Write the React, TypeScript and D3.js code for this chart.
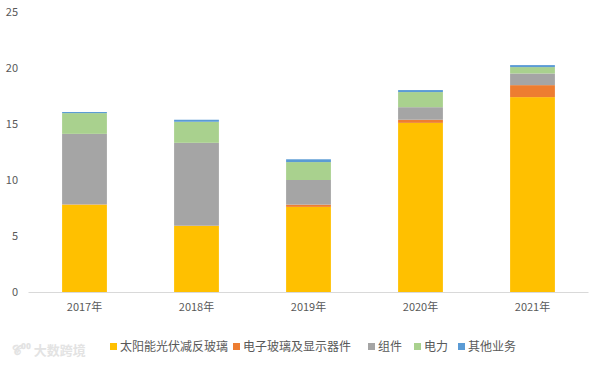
import React from "react";
import * as d3 from "d3";

const categories = ["2017年", "2018年", "2019年", "2020年", "2021年"];
const seriesNames = ["太阳能光伏减反玻璃", "电子玻璃及显示器件", "组件", "电力", "其他业务"];
const solarGlass = [7.8, 5.9, 7.6, 15.1, 17.4];
const electronicGlass = [0.02, 0.02, 0.2, 0.28, 1.07];
const modules = [6.3, 7.4, 2.2, 1.12, 1.04];
const power = [1.85, 1.88, 1.6, 1.35, 0.57];
const other = [0.1, 0.18, 0.25, 0.18, 0.18];
const yTicks = [0, 5, 10, 15, 20, 25];
const colors = ["#FFC000", "#ED7D31", "#A5A5A5", "#A9D18E", "#5B9BD5"];

export default function App() {
  const W = 609, H = 365;
  const left = 28.5, right = 588.5, top = 12, bottom = 292;
  const x = d3.scaleBand().domain(categories).range([left, right]).paddingInner(0.6).paddingOuter(0.3);
  const y = d3.scaleLinear().domain([0, 25]).range([bottom, top]);
  const rows = categories.map((c, i) => ({
    cat: c,
    s0: solarGlass[i], s1: electronicGlass[i], s2: modules[i], s3: power[i], s4: other[i],
  }));
  const stacked = d3.stack<any>().keys(["s0", "s1", "s2", "s3", "s4"])(rows);
  const font = "'Noto Sans CJK SC', 'Noto Sans', sans-serif";
  const legendX = [110, 233, 368, 414, 458];
  return (
    <svg width={W} height={H} style={{ position: "absolute", left: 0, top: 0, background: "#fff" }} fontFamily={font}>
      {yTicks.map((t) => (
        <text key={t} x={18} y={y(t)} dy="0.35em" textAnchor="end" fontSize={11} fill="#595959">{t}</text>
      ))}
      {stacked.map((layer, li) => (
        <g key={li} fill={colors[li]}>
          {layer.map((d, i) => (
            <rect key={i} x={x(categories[i])} width={x.bandwidth()} y={y(d[1])} height={Math.max(0, y(d[0]) - y(d[1]))} />
          ))}
        </g>
      ))}
      <line x1={left} x2={right} y1={bottom + 0.5} y2={bottom + 0.5} stroke="#D9D9D9" strokeWidth={1} />
      {categories.map((c) => (
        <text key={c} x={(x(c) as number) + x.bandwidth() / 2} y={311} textAnchor="middle" fontSize={11} fill="#595959">{c}</text>
      ))}
      {seriesNames.map((n, i) => (
        <g key={n}>
          <rect x={legendX[i]} y={343} width={7} height={7} fill={colors[i]} />
          <text x={legendX[i] + 10} y={351} fontSize={12} fill="#595959">{n}</text>
        </g>
      ))}
      <text x={12} y={355} fontSize={13} fill="#E3E3E3" fontWeight="bold">𝓒⁰⁰ 大数跨境</text>
    </svg>
  );
}
